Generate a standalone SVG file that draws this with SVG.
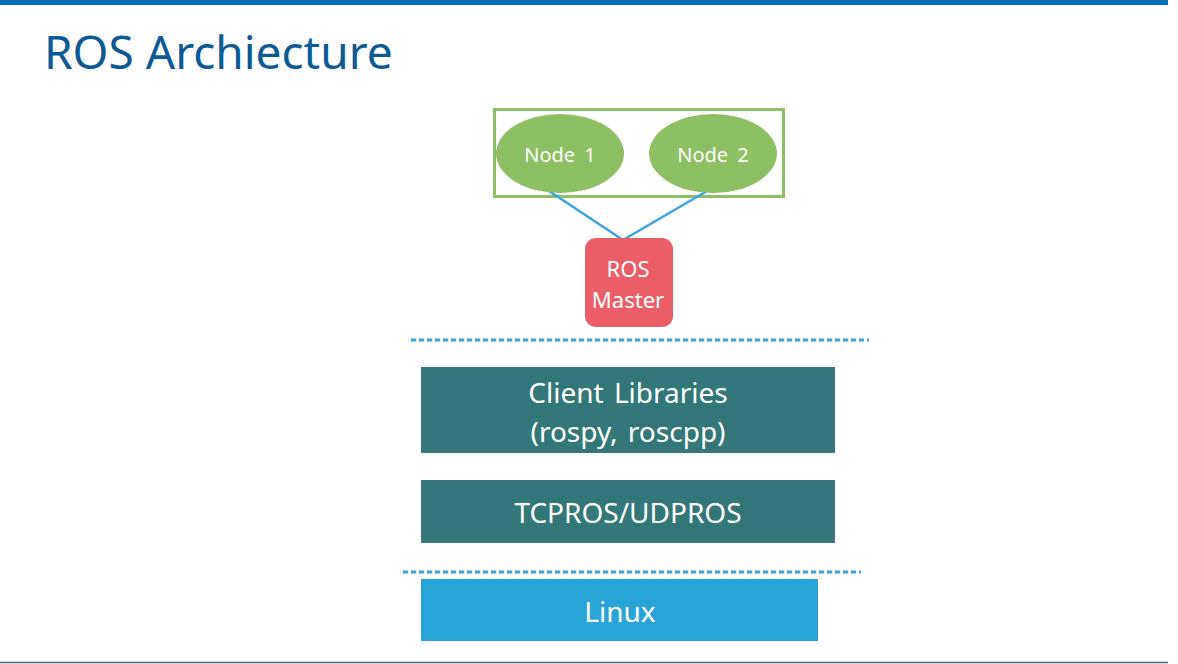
<svg xmlns="http://www.w3.org/2000/svg" width="1178" height="664" viewBox="0 0 1178 664">
<style>
text{font-family:"Noto Sans","Open Sans","DejaVu Sans",sans-serif;fill:#fff;text-anchor:middle}
.layer{fill:#33777a}
.dash{stroke:#35a6dc;stroke-width:3;stroke-dasharray:5 3;fill:none}
.conn{stroke:#35a6dc;stroke-width:2.5;fill:none}
.node{fill:#8cc062}
.lbl{font-size:20px}
.big{font-size:28px;word-spacing:3px}
</style>
<rect x="0" y="0" width="1168" height="5" fill="#0071b6"/>
<line x1="0" y1="662.5" x2="1168" y2="662.5" stroke="#44627a" stroke-width="1.5"/>
<text x="44" y="69" style="font-size:46px;fill:#0b5a96;text-anchor:start">ROS Archiecture</text>
<g id="nodes-group"><rect x="494.5" y="109.5" width="289" height="87" fill="none" stroke="#8cc062" stroke-width="3"/></g>
<g id="connectors">
<line class="conn" x1="549" y1="191" x2="623" y2="240"/>
<line class="conn" x1="707" y1="191" x2="623" y2="240"/>
<line class="dash" x1="411" y1="340" x2="869" y2="340"/>
<line class="dash" x1="403" y1="572" x2="861" y2="572"/>
</g>
<g id="node1"><ellipse class="node" cx="560" cy="153.5" rx="64" ry="39.5"/><text class="lbl" x="560" y="162" style="word-spacing:4px">Node 1</text></g>
<g id="node2"><ellipse class="node" cx="713" cy="153.5" rx="64" ry="39.5"/><text class="lbl" x="713" y="162" style="word-spacing:4px">Node 2</text></g>
<g id="master"><rect x="585" y="238" width="88" height="89" rx="11" fill="#ea5f67"/><text x="628" y="277" style="font-size:22px">ROS</text><text x="628" y="308" style="font-size:22px">Master</text></g>
<g id="client"><rect class="layer" x="421" y="367" width="414" height="86"/><text class="big" x="628" y="403">Client Libraries</text><text class="big" x="628" y="442">(rospy, roscpp)</text></g>
<g id="tcpros"><rect class="layer" x="421" y="480" width="414" height="63"/><text class="big" x="628" y="523">TCPROS/UDPROS</text></g>
<g id="linux"><rect x="421" y="579" width="397" height="62" fill="#29a4d8"/><text class="big" x="620" y="622">Linux</text></g>
</svg>
